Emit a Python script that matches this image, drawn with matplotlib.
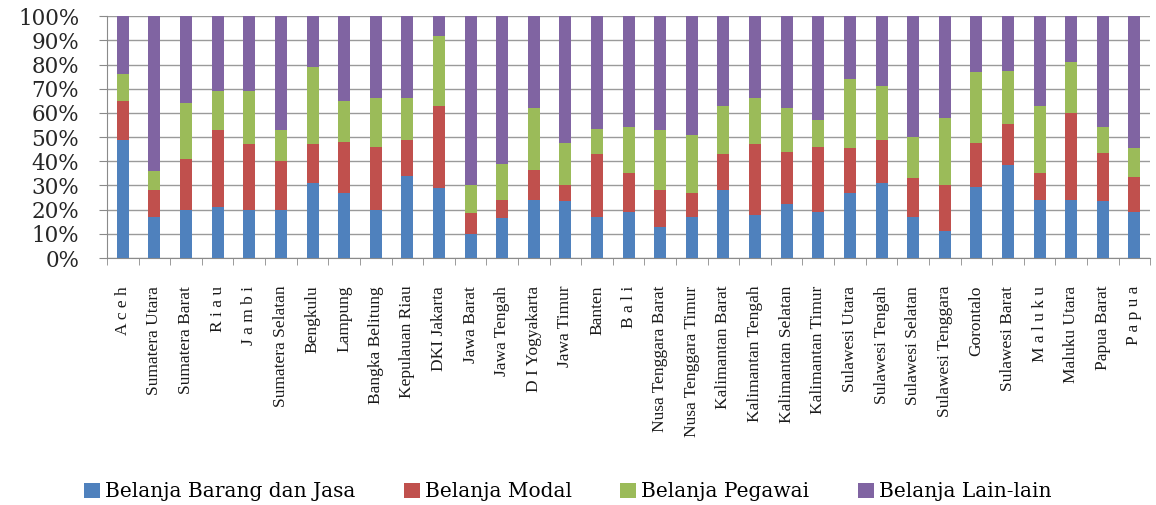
import numpy as np
import matplotlib
matplotlib.use("Agg")
from matplotlib import pyplot as plt
from matplotlib.patches import Patch

# provinsi dan komposisi belanja (%)
provinsi = ["A c e h", "Sumatera Utara", "Sumatera Barat", "R i a u", "J a m b i",
            "Sumatera Selatan", "Bengkulu", "Lampung", "Bangka Belitung", "Kepulauan Riau",
            "DKI Jakarta", "Jawa Barat", "Jawa Tengah", "D I Yogyakarta", "Jawa Timur",
            "Banten", "B a l i", "Nusa Tenggara Barat", "Nusa Tenggara Timur",
            "Kalimantan Barat", "Kalimantan Tengah", "Kalimantan Selatan", "Kalimantan Timur",
            "Sulawesi Utara", "Sulawesi Tengah", "Sulawesi Selatan", "Sulawesi Tenggara",
            "Gorontalo", "Sulawesi Barat", "M a l u k u", "Maluku Utara", "Papua Barat", "P a p u a"]

barang_jasa = [49, 17, 20, 21, 20, 20, 31, 27, 20, 34, 29, 10, 16.5, 24, 23.5, 17, 19,
               13, 17, 28, 18, 22.5, 19, 27, 31, 17, 11, 29.5, 38.5, 24, 24, 23.5, 19]
modal = [16, 11, 21, 32, 27, 20, 16, 21, 26, 15, 34, 8.5, 7.5, 12.5, 6.5, 26, 16,
         15, 10, 15, 29, 21.5, 27, 18.5, 18, 16, 19, 18, 17, 11, 36, 20, 14.5]
pegawai = [11, 8, 23, 16, 22, 13, 32, 17, 20, 17, 29, 11.5, 15, 25.5, 17.5, 10.5, 19,
           25, 24, 20, 19, 18, 11, 28.5, 22, 17, 28, 29.5, 22, 28, 21, 10.5, 12]
lain_lain = [24, 64, 36, 31, 31, 47, 21, 35, 34, 34, 8, 70, 61, 38, 52.5, 46.5, 46,
             47, 49, 37, 34, 38, 43, 26, 29, 50, 42, 23, 22.5, 37, 19, 46, 54.5]

seri = ["Belanja Barang dan Jasa", "Belanja Modal", "Belanja Pegawai", "Belanja Lain-lain"]
warna = ["#4F81BD", "#C0504D", "#9BBB59", "#8064A2"]

fig = plt.figure(figsize=(11.56, 5.05), dpi=100)
ax = fig.add_axes([0.0926, 0.489, 0.9024, 0.479])

x = np.arange(len(provinsi))
bawah = np.zeros(len(provinsi))
for nilai, c in zip([barang_jasa, modal, pegawai, lain_lain], warna):
    nilai = np.array(nilai, dtype=float)
    ax.bar(x, nilai, width=0.38, bottom=bawah, color=c, zorder=3)
    bawah += nilai

ax.set_xlim(-0.5, len(provinsi) - 0.5)
ax.set_ylim(0, 100)
ax.set_yticks(np.arange(0, 101, 10))
ax.set_yticklabels([f"{v}%" for v in range(0, 101, 10)],
                   fontfamily="DejaVu Serif", fontsize=15.5, color="#262626")
ax.set_xticks(x)
ax.set_xticklabels(provinsi, rotation=90, fontfamily="Liberation Serif",
                   fontsize=12.5, color="#1a1a1a", va="top")
ax.set_xticks(np.arange(-0.5, len(provinsi)), minor=True)

ax.grid(axis="y", color="#9a9a9a", linewidth=1.0, zorder=0)
ax.set_axisbelow(True)
for s in ["top", "right"]:
    ax.spines[s].set_visible(False)
for s in ["left", "bottom"]:
    ax.spines[s].set_color("#8a8a8a")

ax.tick_params(axis="y", length=6, color="#8a8a8a", pad=14)
ax.tick_params(axis="x", which="major", length=0, pad=20)
ax.tick_params(axis="x", which="minor", length=5, color="#8a8a8a")

handles = [Patch(facecolor=c) for c in warna]
fig.legend(handles, seri, ncol=4, loc="center", bbox_to_anchor=(0.491, 0.026),
           frameon=False, prop={"family": "DejaVu Serif", "size": 14.5},
           handlelength=0.8, handleheight=0.8, handletextpad=0.25, columnspacing=2.4)

fig.savefig("out.png", dpi=100)
